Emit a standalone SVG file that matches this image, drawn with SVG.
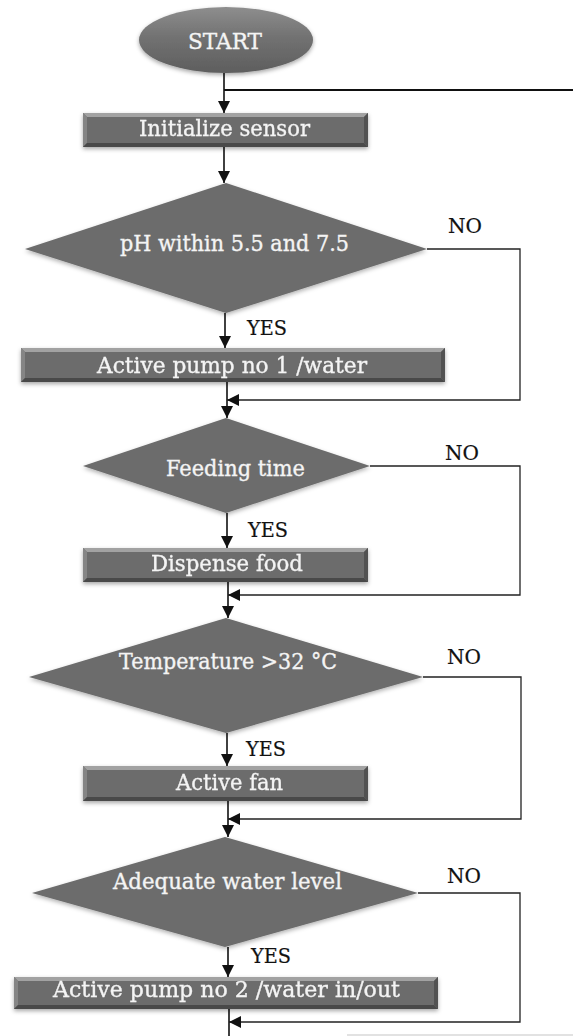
<svg xmlns="http://www.w3.org/2000/svg" width="573" height="1036" viewBox="0 0 573 1036">
<defs>
<style>
.node{fill:#6c6c6c}
.bt{fill:#a2a2a2}
.bl{fill:#858585}
.br{fill:#515151}
.bb{fill:#4a4a4a}
.t{font-family:"DejaVu Serif","Liberation Serif",serif;font-size:22.5px;fill:#f4f4f4;stroke:#f4f4f4;stroke-width:0.35;text-anchor:middle}
.lbl{font-family:"DejaVu Serif","Liberation Serif",serif;font-size:21px;fill:#111;stroke:#111;stroke-width:0.2}
.c{fill:none;stroke:#111;stroke-width:1.6}
.lp{fill:none;stroke:#222;stroke-width:1.3}
</style>
<marker id="ah" markerUnits="userSpaceOnUse" markerWidth="12" markerHeight="12" refX="12" refY="6" orient="auto">
<path d="M0,0 L12,6 L0,12 z" fill="#111"/>
</marker>
<filter id="sh" x="-10%" y="-20%" width="120%" height="150%">
<feDropShadow dx="0" dy="2" stdDeviation="2" flood-color="#000" flood-opacity="0.35"/>
</filter>
<filter id="dsh" x="-10%" y="-10%" width="120%" height="125%">
<feDropShadow dx="0" dy="2" stdDeviation="2.2" flood-color="#000" flood-opacity="0.3"/>
</filter>
<linearGradient id="eg" x1="0" y1="0" x2="0" y2="1">
<stop offset="0" stop-color="#8e8e8e"/>
<stop offset="0.45" stop-color="#727272"/>
<stop offset="1" stop-color="#5e5e5e"/>
</linearGradient>
</defs>

<g id="connectors">
<line class="c" x1="224" y1="73" x2="224" y2="113" marker-end="url(#ah)"/>
<line x1="224" y1="90" x2="573" y2="90" stroke="#111" stroke-width="2"/>
<line class="c" x1="224" y1="147" x2="224" y2="183" marker-end="url(#ah)"/>
<line class="c" x1="225" y1="313" x2="225" y2="348" marker-end="url(#ah)"/>
<line class="c" x1="227" y1="382" x2="227" y2="418" marker-end="url(#ah)"/>
<line class="c" x1="227" y1="513" x2="227" y2="548" marker-end="url(#ah)"/>
<line class="c" x1="228" y1="582" x2="228" y2="618" marker-end="url(#ah)"/>
<line class="c" x1="227" y1="733" x2="227" y2="766" marker-end="url(#ah)"/>
<line class="c" x1="228" y1="801" x2="228" y2="837" marker-end="url(#ah)"/>
<line class="c" x1="228" y1="947" x2="228" y2="977" marker-end="url(#ah)"/>
<line class="c" x1="229" y1="1009" x2="229" y2="1036"/>
<polyline class="lp" points="427,249 520,249 520,400 227,400" marker-end="url(#ah)"/>
<polyline class="lp" points="370,466 520,466 520,595 228,595" marker-end="url(#ah)"/>
<polyline class="lp" points="423,677 521,677 521,819 228,819" marker-end="url(#ah)"/>
<polyline class="lp" points="418,893 520,893 520,1022 229,1022" marker-end="url(#ah)"/>
</g>

<g id="start">
<ellipse cx="226" cy="40" rx="87" ry="33" fill="url(#eg)" filter="url(#sh)"/>
<text class="t" x="225" y="49" textLength="74" lengthAdjust="spacingAndGlyphs">START</text>
</g>

<g id="init" filter="url(#sh)">
<rect class="node" x="83" y="113" width="285" height="34"/>
<polygon class="bt" points="83,113 368,113 364,117 87,117"/>
<polygon class="bl" points="83,113 87,117 87,143 83,147"/>
<polygon class="br" points="368,113 364,117 364,143 368,147"/>
<polygon class="bb" points="83,147 87,143 364,143 368,147"/>
<text class="t" x="224.5" y="136" textLength="171" lengthAdjust="spacingAndGlyphs">Initialize sensor</text>
</g>

<g id="ph">
<polygon class="node" points="226,183 427,249 226,313 25,249" filter="url(#dsh)"/>
<text class="t" x="234.5" y="251" textLength="229" lengthAdjust="spacingAndGlyphs">pH within 5.5 and 7.5</text>
</g>
<g id="ph-labels">
<text class="lbl" x="448" y="233" textLength="34" lengthAdjust="spacingAndGlyphs">NO</text>
<text class="lbl" x="247" y="335" textLength="40" lengthAdjust="spacingAndGlyphs">YES</text>
</g>

<g id="pump1" filter="url(#sh)">
<rect class="node" x="21" y="348" width="424" height="34"/>
<polygon class="bt" points="21,348 445,348 441,352 25,352"/>
<polygon class="bl" points="21,348 25,352 25,378 21,382"/>
<polygon class="br" points="445,348 441,352 441,378 445,382"/>
<polygon class="bb" points="21,382 25,378 441,378 445,382"/>
<text class="t" x="232" y="373" textLength="270" lengthAdjust="spacingAndGlyphs">Active pump no 1 /water</text>
</g>

<g id="feeding">
<polygon class="node" points="226,418 370,466 226,513 83,466" filter="url(#dsh)"/>
<text class="t" x="235.5" y="476" textLength="139" lengthAdjust="spacingAndGlyphs">Feeding time</text>
</g>
<g id="feeding-labels">
<text class="lbl" x="445" y="460" textLength="34" lengthAdjust="spacingAndGlyphs">NO</text>
<text class="lbl" x="248" y="537" textLength="40" lengthAdjust="spacingAndGlyphs">YES</text>
</g>

<g id="dispense" filter="url(#sh)">
<rect class="node" x="83" y="548" width="285" height="34"/>
<polygon class="bt" points="83,548 368,548 364,552 87,552"/>
<polygon class="bl" points="83,548 87,552 87,578 83,582"/>
<polygon class="br" points="368,548 364,552 364,578 368,582"/>
<polygon class="bb" points="83,582 87,578 364,578 368,582"/>
<text class="t" x="227" y="571" textLength="152" lengthAdjust="spacingAndGlyphs">Dispense food</text>
</g>

<g id="temperature">
<polygon class="node" points="226,618 423,677 226,733 29,677" filter="url(#dsh)"/>
<text class="t" x="228" y="669" textLength="218" lengthAdjust="spacingAndGlyphs">Temperature &gt;32 °C</text>
</g>
<g id="temperature-labels">
<text class="lbl" x="447" y="664" textLength="34" lengthAdjust="spacingAndGlyphs">NO</text>
<text class="lbl" x="246" y="756" textLength="40" lengthAdjust="spacingAndGlyphs">YES</text>
</g>

<g id="fan" filter="url(#sh)">
<rect class="node" x="83" y="766" width="285" height="35"/>
<polygon class="bt" points="83,766 368,766 364,770 87,770"/>
<polygon class="bl" points="83,766 87,770 87,797 83,801"/>
<polygon class="br" points="368,766 364,770 364,797 368,801"/>
<polygon class="bb" points="83,801 87,797 364,797 368,801"/>
<text class="t" x="229.5" y="790" textLength="107" lengthAdjust="spacingAndGlyphs">Active fan</text>
</g>

<g id="water-level">
<polygon class="node" points="225,837 418,893 225,947 32,893" filter="url(#dsh)"/>
<text class="t" x="227.5" y="889" textLength="229" lengthAdjust="spacingAndGlyphs">Adequate water level</text>
</g>
<g id="water-level-labels">
<text class="lbl" x="447" y="883" textLength="34" lengthAdjust="spacingAndGlyphs">NO</text>
<text class="lbl" x="251" y="963" textLength="40" lengthAdjust="spacingAndGlyphs">YES</text>
</g>

<g id="pump2" filter="url(#sh)">
<rect class="node" x="14" y="977" width="424" height="32"/>
<polygon class="bt" points="14,977 438,977 434,981 18,981"/>
<polygon class="bl" points="14,977 18,981 18,1005 14,1009"/>
<polygon class="br" points="438,977 434,981 434,1005 438,1009"/>
<polygon class="bb" points="14,1009 18,1005 434,1005 438,1009"/>
<text class="t" x="226.5" y="997" textLength="347" lengthAdjust="spacingAndGlyphs">Active pump no 2 /water in/out</text>
</g>

<rect x="347" y="1034" width="226" height="2" fill="#e2e2e2"/>
</svg>
